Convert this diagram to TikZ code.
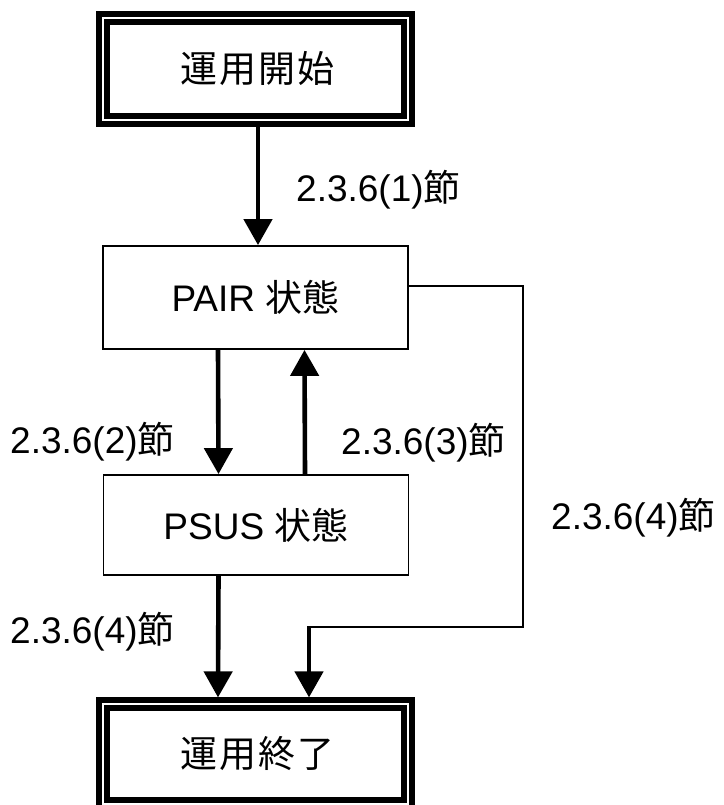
\documentclass[tikz,border=0pt]{standalone}
\usepackage{fontspec}
\setmainfont{Liberation Sans}
\newfontfamily\cjk{Noto Sans CJK JP}
\newfontfamily\cjkwide[LetterSpace=6]{Noto Sans CJK JP}
\usetikzlibrary{arrows.meta}
\tikzset{
  box/.style={draw, line width=1.8pt, outer sep=0.9pt, inner sep=0pt,
    minimum width=305pt, minimum height=103pt},
  dbox/.style={draw, line width=6pt, double=white, double distance=1.2pt,
    outer sep=6.6pt, inner sep=0pt, minimum width=305pt, minimum height=102pt},
  flow/.style={line width=4.6pt, -{Triangle[width=28pt,length=26pt]}},
  thinline/.style={line width=1.8pt},
  lbl/.style={anchor=west, inner sep=0pt}
}
\begin{document}
\begin{tikzpicture}[x=1pt, y=-1pt, font=\fontsize{37pt}{41pt}\selectfont]
\useasboundingbox (0,0) rectangle (723,805);
\node[dbox] (start) at (255.5,69) {\hspace*{4pt}\cjkwide 運用開始};
\node[box] (pair) at (255.5,297.5) {PAIR {\cjk 状態}};
\node[box, minimum height=100pt] (psus) at (256,525) {PSUS {\cjk 状態}};
\node[dbox, minimum height=100pt] (stop) at (255.5,754) {\raisebox{-3pt}{\hspace*{4pt}\cjkwide 運用終了}};

\node[lbl] (l1) at (296,190) {2.3.6(1){\cjk 節}};
\node[lbl] (l2) at (10,442) {2.3.6(2){\cjk 節}};
\node[lbl] (l3) at (341,443) {2.3.6(3){\cjk 節}};
\node[lbl] (l4) at (10,632) {2.3.6(4){\cjk 節}};
\node[lbl] (l5) at (551,518) {2.3.6(4){\cjk 節}};

\draw[flow] ([xshift=2.5pt]start.south) -- ([xshift=2.5pt]pair.north);
\draw[flow] ([xshift=-37.5pt]pair.south) -- ([xshift=-37.5pt]psus.north);
\draw[flow] ([xshift=49pt]psus.north) -- ([xshift=49pt]pair.south);
\draw[flow] ([xshift=-37.5pt]psus.south) -- ([xshift=-37.5pt]stop.north);

\coordinate (r0) at (408,286);
\coordinate (r1) at (523,286);
\coordinate (r2) at (523,627);
\coordinate (r3) at (309,627);
\draw[thinline] (r0) -- (r1) -- (r2) -- (r3);
\draw[flow] ([yshift=1pt]r3) -- (stop.north -| r3);
\end{tikzpicture}
\end{document}
